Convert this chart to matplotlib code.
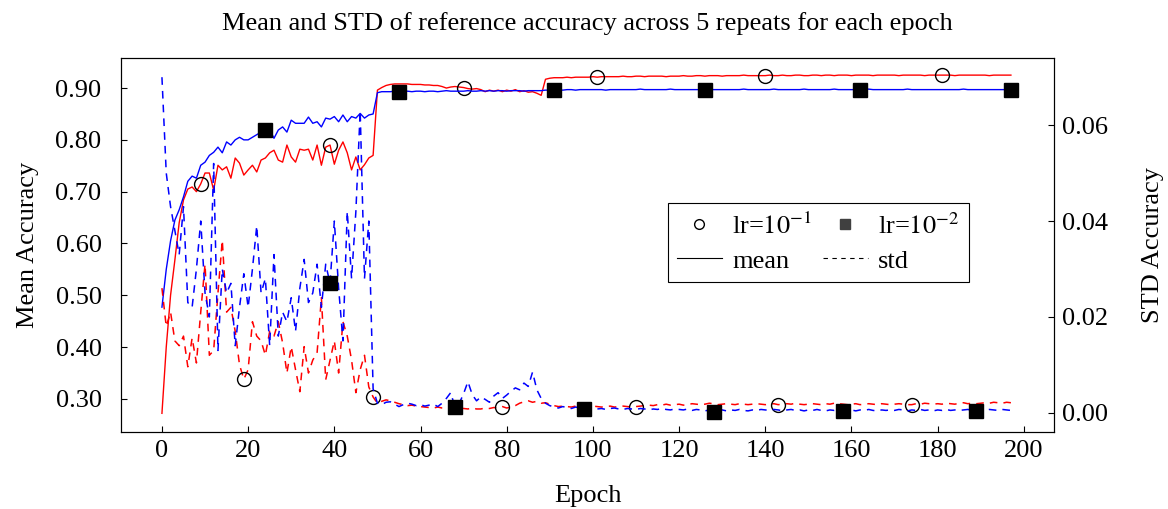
import numpy as np
import matplotlib
matplotlib.use('Agg')
import matplotlib.pyplot as plt
from matplotlib.lines import Line2D

plt.rcParams['font.family'] = 'serif'
plt.rcParams['font.serif'] = ['Liberation Serif', 'DejaVu Serif']
plt.rcParams['mathtext.fontset'] = 'stix'

# mean accuracy per epoch, lr=1e-1 (red) and lr=1e-2 (blue)
mean_lr1 = [
    0.272, 0.400, 0.500, 0.568, 0.640, 0.684, 0.705, 0.709, 0.700, 0.715,
    0.736, 0.736, 0.703, 0.751, 0.742, 0.748, 0.726, 0.765, 0.755, 0.732,
    0.742, 0.751, 0.738, 0.761, 0.765, 0.775, 0.780, 0.761, 0.757, 0.790,
    0.767, 0.757, 0.782, 0.780, 0.782, 0.761, 0.790, 0.751, 0.786, 0.790,
    0.753, 0.780, 0.796, 0.775, 0.742, 0.767, 0.742, 0.752, 0.765, 0.770,
    0.896, 0.901, 0.905, 0.907, 0.908, 0.908, 0.908, 0.908, 0.907, 0.907,
    0.907, 0.906, 0.906, 0.905, 0.905, 0.903, 0.900, 0.902, 0.903, 0.902,
    0.901, 0.899, 0.898, 0.899, 0.897, 0.893, 0.896, 0.894, 0.896, 0.893,
    0.896, 0.894, 0.897, 0.893, 0.895, 0.892, 0.893, 0.890, 0.886, 0.917,
    0.919, 0.920, 0.920, 0.920, 0.921, 0.920, 0.921, 0.921, 0.921, 0.921,
    0.922, 0.921, 0.922, 0.922, 0.922, 0.922, 0.922, 0.923, 0.922, 0.922,
    0.923, 0.923, 0.922, 0.923, 0.923, 0.923, 0.923, 0.922, 0.923, 0.923,
    0.923, 0.924, 0.923, 0.923, 0.924, 0.924, 0.923, 0.924, 0.924, 0.924,
    0.923, 0.924, 0.924, 0.924, 0.924, 0.925, 0.924, 0.924, 0.924, 0.924,
    0.924, 0.925, 0.924, 0.924, 0.925, 0.924, 0.924, 0.925, 0.925, 0.924,
    0.924, 0.925, 0.925, 0.924, 0.925, 0.925, 0.924, 0.925, 0.925, 0.925,
    0.924, 0.925, 0.925, 0.925, 0.925, 0.924, 0.925, 0.925, 0.925, 0.925,
    0.925, 0.924, 0.925, 0.925, 0.925, 0.925, 0.925, 0.924, 0.925, 0.925,
    0.925, 0.925, 0.925, 0.925, 0.924, 0.925, 0.925, 0.925, 0.925, 0.925,
    0.925, 0.925, 0.924, 0.925, 0.925, 0.925, 0.925, 0.925,
]
mean_lr2 = [
    0.477, 0.550, 0.605, 0.645, 0.665, 0.690, 0.720, 0.730, 0.726, 0.751,
    0.757, 0.770, 0.776, 0.786, 0.775, 0.796, 0.790, 0.800, 0.805, 0.800,
    0.800, 0.805, 0.810, 0.815, 0.820, 0.820, 0.803, 0.819, 0.825, 0.815,
    0.838, 0.832, 0.832, 0.832, 0.844, 0.832, 0.835, 0.825, 0.842, 0.840,
    0.845, 0.835, 0.848, 0.835, 0.845, 0.842, 0.851, 0.842, 0.848, 0.850,
    0.891, 0.893, 0.893, 0.893, 0.894, 0.893, 0.893, 0.894, 0.893, 0.894,
    0.894, 0.893, 0.894, 0.894, 0.893, 0.894, 0.895, 0.894, 0.894, 0.894,
    0.894, 0.895, 0.894, 0.894, 0.895, 0.894, 0.895, 0.894, 0.895, 0.895,
    0.894, 0.895, 0.895, 0.895, 0.894, 0.895, 0.895, 0.895, 0.895, 0.896,
    0.896, 0.896, 0.897, 0.896, 0.897, 0.897, 0.896, 0.897, 0.897, 0.897,
    0.897, 0.897, 0.897, 0.896, 0.897, 0.897, 0.897, 0.897, 0.897, 0.897,
    0.897, 0.898, 0.897, 0.897, 0.897, 0.897, 0.897, 0.897, 0.898, 0.897,
    0.897, 0.897, 0.897, 0.897, 0.897, 0.897, 0.897, 0.898, 0.897, 0.897,
    0.897, 0.897, 0.897, 0.897, 0.897, 0.898, 0.897, 0.897, 0.897, 0.897,
    0.897, 0.897, 0.898, 0.897, 0.897, 0.897, 0.897, 0.897, 0.897, 0.898,
    0.897, 0.897, 0.897, 0.897, 0.897, 0.897, 0.898, 0.897, 0.897, 0.897,
    0.897, 0.897, 0.897, 0.897, 0.898, 0.897, 0.897, 0.897, 0.897, 0.897,
    0.897, 0.897, 0.897, 0.898, 0.897, 0.897, 0.897, 0.897, 0.897, 0.897,
    0.897, 0.897, 0.897, 0.897, 0.897, 0.897, 0.898, 0.897, 0.897, 0.897,
    0.897, 0.897, 0.897, 0.897, 0.897, 0.897, 0.897, 0.897,
]

# std of accuracy per epoch
std_lr1 = [
    0.0260, 0.0180, 0.0210, 0.0150, 0.0140, 0.0160, 0.0096, 0.0156, 0.0104, 0.0210,
    0.0310, 0.0120, 0.0130, 0.0250, 0.0360, 0.0210, 0.0220, 0.0170, 0.0100, 0.0070,
    0.0090, 0.0190, 0.0160, 0.0150, 0.0120, 0.0170, 0.0160, 0.0190, 0.0146, 0.0083,
    0.0138, 0.0090, 0.0044, 0.0138, 0.0083, 0.0110, 0.0125, 0.0240, 0.0069, 0.0110,
    0.0150, 0.0083, 0.0190, 0.0160, 0.0110, 0.0042, 0.0090, 0.0120, 0.0054, 0.0033,
    0.0020, 0.0024, 0.0027, 0.0025, 0.0022, 0.0019, 0.0017, 0.0015, 0.0016, 0.0014,
    0.0013, 0.0012, 0.0011, 0.0010, 0.0012, 0.0010, 0.0009, 0.0011, 0.0008, 0.0010,
    0.0009, 0.0008, 0.0010, 0.0008, 0.0008, 0.0010, 0.0009, 0.0011, 0.0010, 0.0013,
    0.0010, 0.0012, 0.0015, 0.0020, 0.0023, 0.0025, 0.0022, 0.0024, 0.0020, 0.0021,
    0.0018, 0.0015, 0.0013, 0.0014, 0.0013, 0.0012, 0.0014, 0.0013, 0.0012, 0.0013,
    0.0014, 0.0013, 0.0012, 0.0013, 0.0014, 0.0012, 0.0013, 0.0014, 0.0013, 0.0012,
    0.0013, 0.0014, 0.0015, 0.0016, 0.0015, 0.0017, 0.0016, 0.0018, 0.0016, 0.0017,
    0.0018, 0.0016, 0.0017, 0.0019, 0.0018, 0.0017, 0.0018, 0.0020, 0.0019, 0.0017,
    0.0018, 0.0019, 0.0018, 0.0017, 0.0019, 0.0018, 0.0017, 0.0018, 0.0019, 0.0018,
    0.0017, 0.0018, 0.0019, 0.0017, 0.0018, 0.0019, 0.0018, 0.0020, 0.0018, 0.0017,
    0.0018, 0.0019, 0.0018, 0.0017, 0.0019, 0.0018, 0.0020, 0.0019, 0.0018, 0.0017,
    0.0018, 0.0019, 0.0017, 0.0018, 0.0019, 0.0018, 0.0017, 0.0019, 0.0018, 0.0017,
    0.0018, 0.0019, 0.0018, 0.0017, 0.0017, 0.0019, 0.0018, 0.0020, 0.0019, 0.0018,
    0.0019, 0.0018, 0.0020, 0.0019, 0.0018, 0.0020, 0.0021, 0.0019, 0.0020, 0.0019,
    0.0020, 0.0021, 0.0020, 0.0022, 0.0021, 0.0020, 0.0022, 0.0021,
]
std_lr2 = [
    0.0700, 0.0500, 0.0430, 0.0380, 0.0330, 0.0430, 0.0230, 0.0220, 0.0300, 0.0400,
    0.0250, 0.0200, 0.0520, 0.0130, 0.0300, 0.0250, 0.0270, 0.0140, 0.0220, 0.0290,
    0.0220, 0.0300, 0.0390, 0.0250, 0.0280, 0.0140, 0.0330, 0.0160, 0.0210, 0.0190,
    0.0240, 0.0170, 0.0260, 0.0320, 0.0230, 0.0250, 0.0310, 0.0220, 0.0310, 0.0270,
    0.0400, 0.0260, 0.0150, 0.0420, 0.0280, 0.0420, 0.0630, 0.0280, 0.0400, 0.0050,
    0.0020, 0.0017, 0.0022, 0.0023, 0.0018, 0.0013, 0.0017, 0.0020, 0.0018, 0.0015,
    0.0017, 0.0014, 0.0016, 0.0018, 0.0013, 0.0020, 0.0030, 0.0042, 0.0012, 0.0020,
    0.0040, 0.0065, 0.0038, 0.0025, 0.0033, 0.0028, 0.0022, 0.0035, 0.0042, 0.0030,
    0.0037, 0.0045, 0.0052, 0.0048, 0.0062, 0.0055, 0.0085, 0.0048, 0.0030, 0.0020,
    0.0015, 0.0012, 0.0010, 0.0013, 0.0011, 0.0009, 0.0012, 0.0010, 0.0008, 0.0009,
    0.0010, 0.0008, 0.0009, 0.0007, 0.0009, 0.0010, 0.0008, 0.0007, 0.0009, 0.0008,
    0.0007, 0.0009, 0.0008, 0.0006, 0.0008, 0.0007, 0.0009, 0.0007, 0.0006, 0.0008,
    0.0007, 0.0006, 0.0008, 0.0005, 0.0007, 0.0006, 0.0004, 0.0006, 0.0002, 0.0005,
    0.0006, 0.0004, 0.0006, 0.0005, 0.0007, 0.0005, 0.0004, 0.0006, 0.0005, 0.0007,
    0.0006, 0.0005, 0.0007, 0.0006, 0.0004, 0.0006, 0.0007, 0.0005, 0.0006, 0.0004,
    0.0006, 0.0005, 0.0007, 0.0005, 0.0004, 0.0006, 0.0005, 0.0007, 0.0003, 0.0005,
    0.0006, 0.0004, 0.0006, 0.0005, 0.0007, 0.0005, 0.0004, 0.0006, 0.0005, 0.0006,
    0.0005, 0.0007, 0.0006, 0.0004, 0.0006, 0.0005, 0.0007, 0.0005, 0.0006, 0.0004,
    0.0006, 0.0005, 0.0007, 0.0005, 0.0006, 0.0005, 0.0006, 0.0007, 0.0005, 0.0004,
    0.0006, 0.0005, 0.0007, 0.0006, 0.0005, 0.0007, 0.0006, 0.0005,
]

# epochs where the marks sit on each curve
marks_mean_lr1 = [9, 39, 70, 101, 140, 181]
marks_mean_lr2 = [24, 55, 91, 126, 162, 197]
marks_std_lr1 = [19, 49, 79, 110, 143, 174]
marks_std_lr2 = [39, 68, 98, 128, 158, 189]

fig = plt.figure(figsize=(11.68, 5.09), dpi=100)
ax = fig.add_axes([0.1036, 0.1513, 0.7988, 0.7347])
ax2 = ax.twinx()

fs = 19
ax.plot(np.arange(len(mean_lr1)), mean_lr1, color='red', lw=1.0,
        marker='o', markevery=marks_mean_lr1, ms=10, mfc='none', mec='black', mew=1.0)
ax.plot(np.arange(len(mean_lr2)), mean_lr2, color='blue', lw=1.0,
        marker='s', markevery=marks_mean_lr2, ms=9.5, mfc='black', mec='black')

ax2.plot(np.arange(len(std_lr1)), std_lr1, color='red', lw=1.1, dashes=(5, 4),
         marker='o', markevery=marks_std_lr1, ms=10, mfc='none', mec='black', mew=1.0)
ax2.plot(np.arange(len(std_lr2)), std_lr2, color='blue', lw=1.1, dashes=(5, 4),
         marker='s', markevery=marks_std_lr2, ms=9.5, mfc='black', mec='black')

ax.set_xlim(-9.5, 207)
ax.set_ylim(0.236, 0.958)
ax2.set_ylim(-0.004, 0.074)

ax.set_xticks(np.arange(0, 201, 20))
ax.set_yticks(np.arange(0.3, 0.91, 0.1))
ax.set_yticklabels(['%.2f' % v for v in np.arange(0.3, 0.91, 0.1)])
ax2.set_yticks([0.0, 0.02, 0.04, 0.06])
ax2.set_yticklabels(['0.00', '0.02', '0.04', '0.06'])

ax.tick_params(direction='in', labelsize=fs, length=4)
ax.tick_params(axis='x', pad=6)
ax.tick_params(axis='y', pad=14)
ax2.tick_params(direction='in', labelsize=fs, length=4, pad=6)

ax.set_xlabel('Epoch', fontsize=fs, labelpad=16)
ax.set_ylabel('Mean Accuracy', fontsize=fs, labelpad=12)
ax2.set_ylabel('STD Accuracy', fontsize=fs, labelpad=24)
ax.set_title('Mean and STD of reference accuracy across 5 repeats for each epoch',
             fontsize=fs, pad=20)

handles = [
    Line2D([], [], ls='none', marker='o', ms=7, mfc='none', mec='black', mew=1.0),
    Line2D([], [], color='black', lw=0.8),
    Line2D([], [], ls='none', marker='s', ms=6.5, mfc='#404040', mec='#404040'),
    Line2D([], [], color='black', lw=0.8, dashes=(4, 4)),
]
labels = [r'lr=$10^{-1}$', 'mean', r'lr=$10^{-2}$', 'std']
leg = ax2.legend(handles, labels,
                 ncol=2, loc='upper left', bbox_to_anchor=(0.586, 0.612),
                 borderaxespad=0, fontsize=fs, frameon=True, fancybox=False,
                 edgecolor='black', framealpha=1, handlelength=1.7,
                 columnspacing=0.4, borderpad=0.35, labelspacing=0.4,
                 handletextpad=0.4)
leg.get_frame().set_linewidth(0.8)

fig.savefig('out.png', dpi=100)
